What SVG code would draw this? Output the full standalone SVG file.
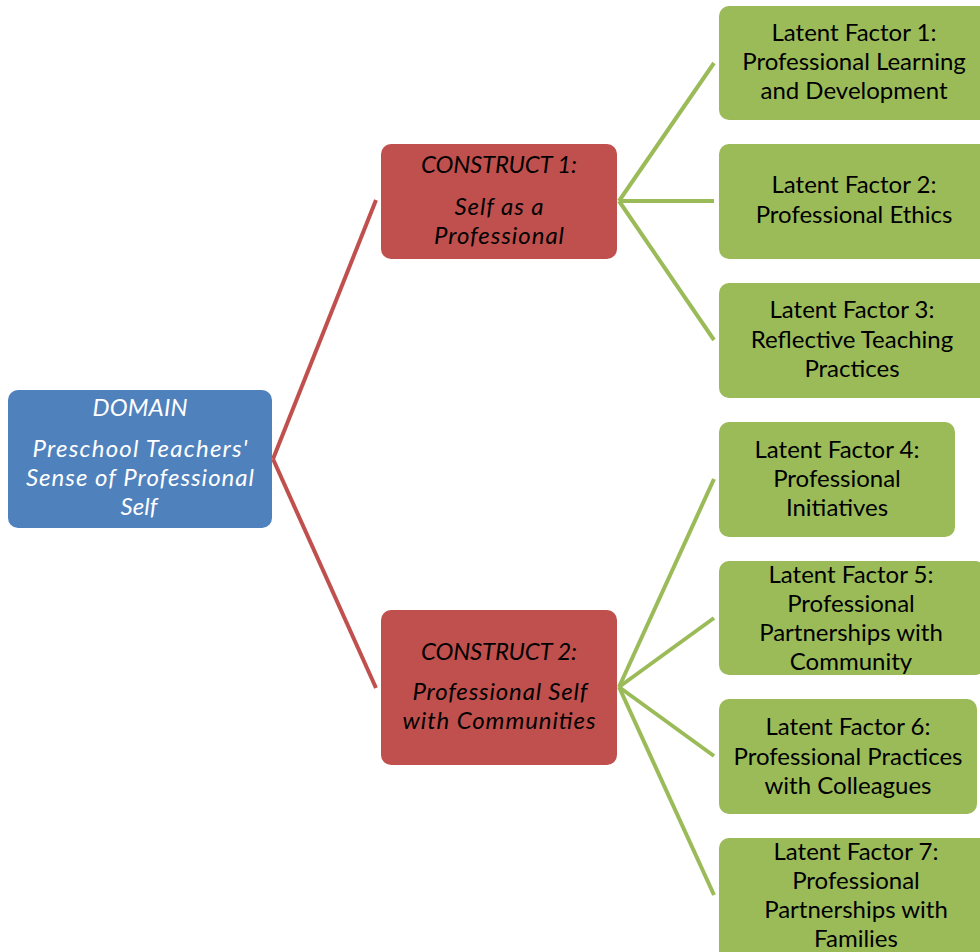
<svg xmlns="http://www.w3.org/2000/svg" width="980" height="952" viewBox="0 0 980 952">
<style>
.dom{fill:#4F81BD;}
.con{fill:#C0504D;}
.lf{fill:#9BBB59;}
.red{stroke:#C0504D;stroke-width:4;fill:none;}
.grn{stroke:#9BBB59;stroke-width:4;fill:none;}
text{font-family:Lato,"Open Sans","Liberation Sans",sans-serif;font-size:24px;text-anchor:middle;}
.it{font-style:italic;}
.w{fill:#FFFFFF;}
.k{fill:#000000;}
</style>
<rect width="980" height="952" fill="#FFFFFF"/>
<g id="connectors">
<line class="red" x1="273" y1="459" x2="376" y2="200"/>
<line class="red" x1="273" y1="459" x2="376" y2="688"/>
<line class="grn" x1="619" y1="201" x2="714" y2="63"/>
<line class="grn" x1="619" y1="201" x2="714" y2="201"/>
<line class="grn" x1="619" y1="201" x2="714" y2="340"/>
<line class="grn" x1="619" y1="687" x2="714" y2="479"/>
<line class="grn" x1="619" y1="687" x2="714" y2="618"/>
<line class="grn" x1="619" y1="687" x2="714" y2="756"/>
<line class="grn" x1="619" y1="687" x2="714" y2="895"/>
</g>
<g id="domain">
<rect class="dom" x="8" y="390" width="264" height="138" rx="10"/>
<text class="it w" x="140" y="416" textLength="95">DOMAIN</text>
<text class="it w" x="140" y="457" textLength="215">Preschool Teachers'</text>
<text class="it w" x="140" y="486" textLength="228">Sense of Professional</text>
<text class="it w" x="139" y="515" textLength="37">Self</text>
</g>
<g id="construct1">
<rect class="con" x="381" y="144" width="236" height="115" rx="10"/>
<text class="it k" x="499" y="173" textLength="156">CONSTRUCT 1:</text>
<text class="it k" x="499" y="215" textLength="89">Self as a</text>
<text class="it k" x="499" y="244" textLength="130">Professional</text>
</g>
<g id="construct2">
<rect class="con" x="381" y="610" width="236" height="155" rx="10"/>
<text class="it k" x="499" y="660" textLength="156">CONSTRUCT 2:</text>
<text class="it k" x="500" y="700" textLength="175">Professional Self</text>
<text class="it k" x="499" y="729" textLength="193">with Communities</text>
</g>
<g id="factor1">
<rect class="lf" x="719" y="6" width="270" height="114" rx="10"/>
<text class="k" x="854" y="41">Latent Factor 1:</text>
<text class="k" x="854" y="70">Professional Learning</text>
<text class="k" x="854" y="99">and Development</text>
</g>
<g id="factor2">
<rect class="lf" x="719" y="144" width="270" height="115" rx="10"/>
<text class="k" x="854" y="193">Latent Factor 2:</text>
<text class="k" x="854" y="223">Professional Ethics</text>
</g>
<g id="factor3">
<rect class="lf" x="719" y="283" width="270" height="115" rx="10"/>
<text class="k" x="852" y="318">Latent Factor 3:</text>
<text class="k" x="852" y="348">Reflective Teaching</text>
<text class="k" x="852" y="377">Practices</text>
</g>
<g id="factor4">
<rect class="lf" x="719" y="422" width="236" height="115" rx="10"/>
<text class="k" x="837" y="458">Latent Factor 4:</text>
<text class="k" x="837" y="487">Professional</text>
<text class="k" x="837" y="516">Initiatives</text>
</g>
<g id="factor5">
<rect class="lf" x="719" y="561" width="266" height="114" rx="10"/>
<text class="k" x="851" y="583">Latent Factor 5:</text>
<text class="k" x="851" y="612">Professional</text>
<text class="k" x="851" y="641">Partnerships with</text>
<text class="k" x="851" y="670">Community</text>
</g>
<g id="factor6">
<rect class="lf" x="719" y="699" width="258" height="115" rx="10"/>
<text class="k" x="848" y="735">Latent Factor 6:</text>
<text class="k" x="848" y="765">Professional Practices</text>
<text class="k" x="848" y="794">with Colleagues</text>
</g>
<g id="factor7">
<rect class="lf" x="719" y="838" width="274" height="124" rx="10"/>
<text class="k" x="856" y="860">Latent Factor 7:</text>
<text class="k" x="856" y="889">Professional</text>
<text class="k" x="856" y="918">Partnerships with</text>
<text class="k" x="856" y="947">Families</text>
</g>
</svg>
